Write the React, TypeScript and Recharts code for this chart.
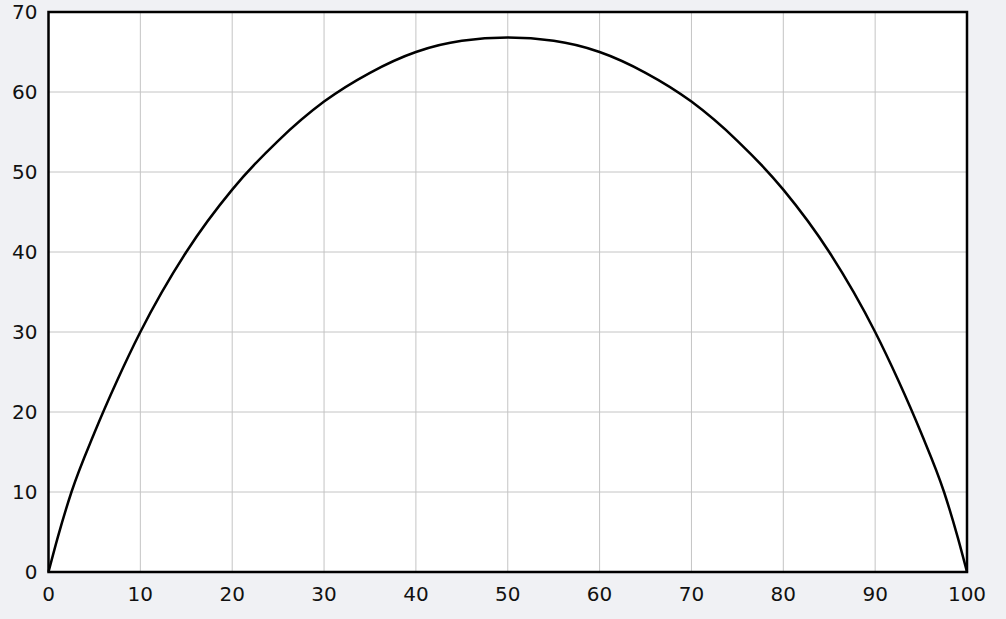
import { LineChart, Line, XAxis, YAxis, CartesianGrid, ReferenceArea } from 'recharts'

// values
const xValues = [0, 1, 2.5, 5, 7.5, 10, 15, 20, 25, 30, 35, 40, 45, 50, 55, 60, 65, 70, 75, 80, 85, 90, 92.5, 95, 97.5, 99, 100]
const yValues = [0, 4.3, 10, 17.4, 24, 30, 40, 47.8, 53.9, 58.8, 62.4, 65, 66.4, 66.8, 66.4, 65, 62.4, 58.8, 53.9, 47.8, 40, 30, 24, 17.4, 10, 4.3, 0]
const xTicks = [0, 10, 20, 30, 40, 50, 60, 70, 80, 90, 100]
const yTicks = [0, 10, 20, 30, 40, 50, 60, 70]

const data = xValues.map((x, i) => ({ x, y: yValues[i] }))

const tickStyle = { fontSize: 20, fill: '#111', fontFamily: '"DejaVu Sans", Verdana, sans-serif' }

const App = () => {
  return (
    <div style={{ position: 'fixed', top: 0, left: 0, width: 1006, height: 619, background: '#f0f1f4' }}>
      <LineChart width={1006} height={619} data={data} margin={{ top: 12, right: 39, left: 8, bottom: 17 }}>
        <CartesianGrid stroke="#c4c4c4" fill="#fff" fillOpacity={1} />
        <XAxis
          dataKey="x"
          type="number"
          domain={[0, 100]}
          ticks={xTicks}
          axisLine={false}
          tickLine={false}
          tickMargin={9}
          height={30}
          tick={tickStyle}
        />
        <YAxis
          type="number"
          domain={[0, 70]}
          ticks={yTicks}
          axisLine={false}
          tickLine={false}
          tickMargin={5}
          width={40.5}
          tick={tickStyle}
        />
        <ReferenceArea x1={0} x2={100} y1={0} y2={70} fill="none" stroke="#000" strokeWidth={2.5} />
        <Line
          type="monotone"
          dataKey="y"
          stroke="#000"
          strokeWidth={2.5}
          dot={false}
          activeDot={false}
          isAnimationActive={false}
        />
      </LineChart>
    </div>
  )
}

export default App
